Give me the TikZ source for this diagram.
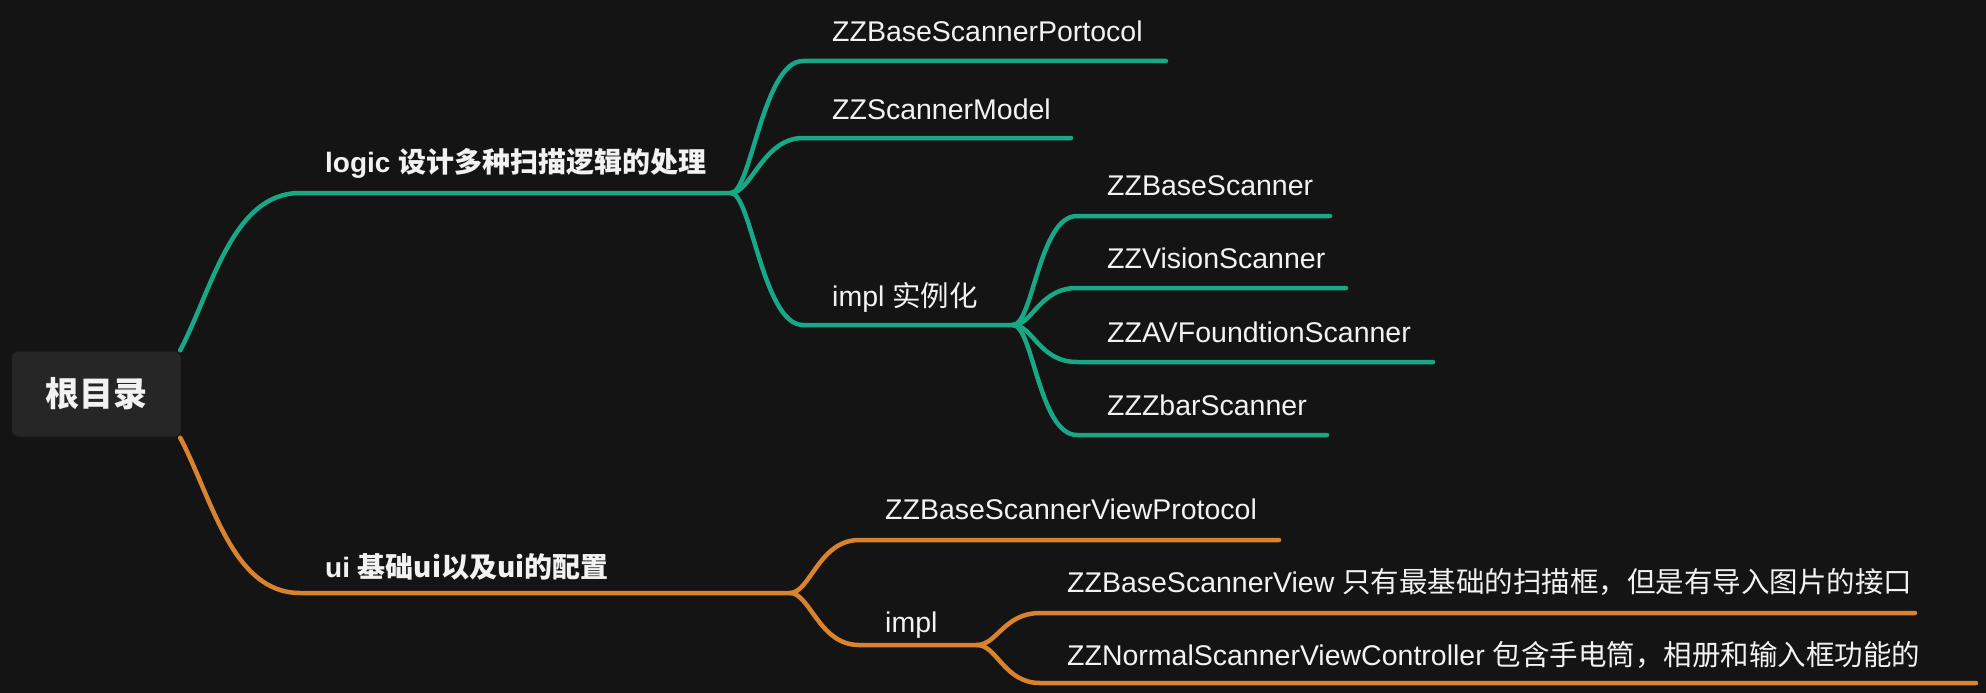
\documentclass[tikz,border=0pt]{standalone}
\usepackage{fontspec}
\setmainfont{Liberation Sans}
\newfontfamily\cjk{Noto Sans CJK SC}
\newcommand{\zh}[1]{{\cjk #1}}
\definecolor{bgc}{HTML}{141414}
\definecolor{boxc}{HTML}{262626}
\definecolor{txtc}{HTML}{F2F2F2}
\definecolor{tealc}{HTML}{19A886}
\definecolor{orangec}{HTML}{D9832E}
\tikzset{
  lbl/.style={text=txtc, inner sep=0pt, anchor=base west, font=\fontsize{28.5}{30}\selectfont},
  blbl/.style={text=txtc, inner sep=0pt, anchor=base west, font=\fontsize{28}{30}\selectfont\bfseries},
  rootbox/.style={fill=boxc, rounded corners=7pt, minimum width=169pt, minimum height=85pt, inner sep=0pt, text=txtc, font=\fontsize{34}{36}\selectfont\bfseries},
  tline/.style={draw=tealc, line width=4.5pt, line cap=round, line join=round},
  oline/.style={draw=orangec, line width=4.5pt, line cap=round, line join=round}
}
\begin{document}
\begin{tikzpicture}[x=1pt,y=-1pt]
\useasboundingbox (0,0) rectangle (1986,693);
\fill[bgc] (0,0) rectangle (1986,693);

% root
\node[rootbox] (root) at (96.5,394) {\zh{根目录}};

% coordinates (junctions and line ends)
\coordinate (logicJ) at (731,193);
\coordinate (implJ) at (1013,325);
\coordinate (uiJ) at (790,593);
\coordinate (impl2J) at (977,645);

% labels
\node[blbl] (logic) at (325,172) {logic \zh{设计多种扫描逻辑的处理}};
\node[lbl] (proto) at (832,42) {ZZBaseScannerPortocol};
\node[lbl] (model) at (832,119) {ZZScannerModel};
\node[lbl] (impl) at (832,306) {impl \zh{实例化}};
\node[lbl] (base) at (1107,195) {ZZBaseScanner};
\node[lbl] (vision) at (1107,268) {ZZVisionScanner};
\node[lbl] (av) at (1107,342) {ZZAVFoundtionScanner};
\node[lbl] (zbar) at (1107,415) {ZZZbarScanner};

\node[blbl] (ui) at (325,577) {ui \zh{基础ui以及ui的配置}};
\node[lbl] (vproto) at (885,519) {ZZBaseScannerViewProtocol};
\node[lbl] (impl2) at (885,632) {impl};
\node[lbl] (bview) at (1067,592) {ZZBaseScannerView \zh{只有最基础的扫描框，但是有导入图片的接口}};
\node[lbl] (nview) at (1067,665) {ZZNormalScannerViewController \zh{包含手电筒，相册和输入框功能的}};

% teal branch
\draw[tline] ([xshift=-1pt,yshift=1pt]root.north east) .. controls (212,290) and (232,193) .. (300,193) -- (logicJ);
\coordinate (protoE) at (1166,61);
\coordinate (modelE) at (1071,138);
\draw[tline] (logicJ) .. controls +(20,0) and +(-40,0) .. (803,61) -- (protoE);
\draw[tline] (logicJ) .. controls +(20,0) and +(-40,0) .. (803,138) -- (modelE);
\draw[tline] (logicJ) .. controls +(20,0) and +(-40,0) .. (803,325) -- (implJ);

\coordinate (baseE) at (1330,216);
\coordinate (visionE) at (1346,288);
\coordinate (avE) at (1433,362);
\coordinate (zbarE) at (1327,435);
\draw[tline] (implJ) .. controls +(20,0) and +(-38,0) .. (1077,216) -- (baseE);
\draw[tline] (implJ) .. controls +(20,0) and +(-38,0) .. (1077,288) -- (visionE);
\draw[tline] (implJ) .. controls +(20,0) and +(-38,0) .. (1077,362) -- (avE);
\draw[tline] (implJ) .. controls +(20,0) and +(-38,0) .. (1077,435) -- (zbarE);

% orange branch
\draw[oline] ([xshift=-1pt,yshift=-1pt]root.south east) .. controls (212,498) and (232,593) .. (300,593) -- (uiJ);
\coordinate (vprotoE) at (1279,540);
\draw[oline] (uiJ) .. controls +(20,0) and +(-40,0) .. (859,540) -- (vprotoE);
\draw[oline] (uiJ) .. controls +(20,0) and +(-40,0) .. (859,645) -- (impl2J);

\coordinate (bviewE) at (1915,613);
\coordinate (nviewE) at (1976,683);
\draw[oline] (impl2J) .. controls +(20,0) and +(-36,0) .. (1040,613) -- (bviewE);
\draw[oline] (impl2J) .. controls +(20,0) and +(-36,0) .. (1040,683) -- (nviewE);
\end{tikzpicture}
\end{document}
